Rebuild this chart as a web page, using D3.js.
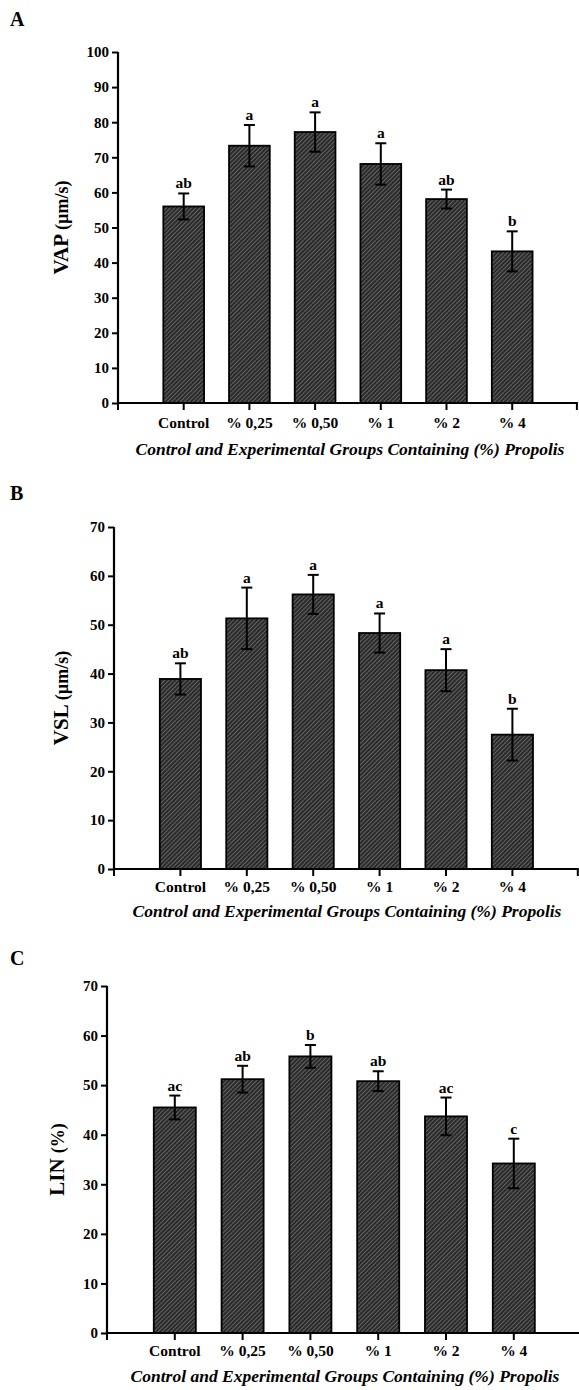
<!DOCTYPE html>
<html>
<head>
<meta charset="utf-8">
<script src="https://cdn.jsdelivr.net/npm/d3@7"></script>
<style>
  html, body { margin: 0; padding: 0; background: #fff; }
  svg { display: block; }
  text { font-family: "Liberation Serif", "Times New Roman", serif; font-weight: bold; fill: #000; }
</style>
</head>
<body>
<svg id="chart" width="579" height="1390"></svg>
<script>
// ---- data ----
const groups = ["Control", "% 0,25", "% 0,50", "% 1", "% 2", "% 4"];

const vapMean = [56, 73.3, 77.2, 68.1, 58.1, 43.2];
const vapErr = [3.7, 5.9, 5.6, 5.9, 2.7, 5.7];
const vapLetters = ["ab", "a", "a", "a", "ab", "b"];
const vapTicks = [0, 10, 20, 30, 40, 50, 60, 70, 80, 90, 100];

const vslMean = [38.9, 51.3, 56.2, 48.3, 40.7, 27.5];
const vslErr = [3.2, 6.3, 4.0, 4.0, 4.3, 5.3];
const vslLetters = ["ab", "a", "a", "a", "a", "b"];
const vslTicks = [0, 10, 20, 30, 40, 50, 60, 70];

const linMean = [45.5, 51.2, 55.8, 50.8, 43.7, 34.2];
const linErr = [2.4, 2.7, 2.3, 2.0, 3.8, 5.0];
const linLetters = ["ac", "ab", "b", "ab", "ac", "c"];
const linTicks = [0, 10, 20, 30, 40, 50, 60, 70];

const xTitle = "Control and Experimental Groups Containing (%) Propolis";

// ---- drawing ----
const svg = d3.select("#chart");
const defs = svg.append("defs");
const pat = defs.append("pattern")
  .attr("id", "hatch")
  .attr("patternUnits", "userSpaceOnUse")
  .attr("width", 3).attr("height", 3)
  .attr("patternTransform", "rotate(45)");
pat.append("rect").attr("width", 3).attr("height", 3).attr("fill", "#2a2a2a");
pat.append("line").attr("x1", 0.5).attr("y1", 0).attr("x2", 0.5).attr("y2", 3)
  .attr("stroke", "#626262").attr("stroke-width", 1);

function panel(cfg) {
  const g = svg.append("g");
  const x0 = cfg.x0, step = cfg.step;
  const xEnd = Math.min(x0 + 7 * step, 579);
  const x = d3.scaleBand().domain(groups)
    .range([x0 + step * 0.5, x0 + step * 6.5])
    .paddingInner(0.38).paddingOuter(0.19);
  const y = d3.scaleLinear().domain([0, cfg.max]).range([cfg.yZero, cfg.yTop]);

  // panel letter
  g.append("text").attr("x", 10).attr("y", cfg.letterY)
    .style("font-size", "20px").text(cfg.letter);

  // bars
  g.selectAll("rect.bar").data(cfg.mean).join("rect")
    .attr("class", "bar")
    .attr("x", (d, i) => x(groups[i]))
    .attr("y", d => y(d))
    .attr("width", x.bandwidth())
    .attr("height", d => y(0) - y(d))
    .attr("fill", "url(#hatch)")
    .attr("stroke", "#000").attr("stroke-width", 1.8);

  // error bars
  const cx = i => x(groups[i]) + x.bandwidth() / 2;
  const eb = g.selectAll("g.err").data(cfg.mean).join("g").attr("class", "err");
  eb.append("line")
    .attr("x1", (d, i) => cx(i)).attr("x2", (d, i) => cx(i))
    .attr("y1", (d, i) => y(d - cfg.err[i])).attr("y2", (d, i) => y(d + cfg.err[i]))
    .attr("stroke", "#000").attr("stroke-width", 2);
  [1, -1].forEach(sgn => {
    eb.append("line")
      .attr("x1", (d, i) => cx(i) - 5.5).attr("x2", (d, i) => cx(i) + 5.5)
      .attr("y1", (d, i) => y(d + sgn * cfg.err[i])).attr("y2", (d, i) => y(d + sgn * cfg.err[i]))
      .attr("stroke", "#000").attr("stroke-width", 2);
  });

  // significance letters
  g.selectAll("text.sig").data(cfg.mean).join("text")
    .attr("class", "sig")
    .attr("x", (d, i) => cx(i))
    .attr("y", (d, i) => y(d + cfg.err[i]) - 5)
    .attr("text-anchor", "middle")
    .style("font-size", "15.5px")
    .text((d, i) => cfg.letters[i]);

  // y axis
  const yAxis = d3.axisLeft(y).tickValues(cfg.ticks).tickSize(6).tickPadding(3).tickSizeOuter(0);
  const ya = g.append("g").attr("transform", `translate(${x0},0)`).call(yAxis);
  ya.select(".domain").attr("stroke-width", 2.2).attr("d", `M0,${cfg.yZero + 1}V${cfg.yTop}`);
  ya.selectAll(".tick line").attr("stroke-width", 2);
  ya.selectAll(".tick text").style("font-size", "15px")
    .style("font-family", "'Liberation Serif', serif").style("font-weight", "bold");

  // x axis
  const xa = g.append("g").attr("transform", `translate(0,${cfg.yZero})`);
  xa.append("line").attr("x1", x0 - 1).attr("x2", xEnd).attr("y1", 0).attr("y2", 0)
    .attr("stroke", "#000").attr("stroke-width", 2.2);
  const tickXs = [x0].concat(groups.map((c, i) => cx(i)));
  if (x0 + 7 * step <= 579) tickXs.push(x0 + 7 * step - 1);
  xa.selectAll("line.xt").data(tickXs).join("line").attr("class", "xt")
    .attr("x1", d => d).attr("x2", d => d).attr("y1", 0).attr("y2", 7)
    .attr("stroke", "#000").attr("stroke-width", 2);
  xa.selectAll("text.xl").data(groups).join("text").attr("class", "xl")
    .attr("x", (d, i) => cx(i)).attr("y", cfg.labelDy)
    .attr("text-anchor", "middle").style("font-size", "15.5px")
    .text(d => d);

  // x title
  g.append("text").attr("x", cfg.subX).attr("y", cfg.subY)
    .attr("text-anchor", "middle").style("font-size", "17.5px").style("font-style", "italic")
    .text(xTitle);

  // y title
  const yt = g.append("text")
    .attr("transform", `translate(${cfg.ytX},${(cfg.yZero + cfg.yTop) / 2}) rotate(-90)`)
    .attr("text-anchor", "middle");
  yt.append("tspan").style("font-size", "21px").text(cfg.yMain);
  yt.append("tspan").style("font-size", "18px").text(cfg.yUnit);
}

panel({ letter: "A", letterY: 26, x0: 118, step: 65.7, yTop: 52, yZero: 403, max: 100,
  mean: vapMean, err: vapErr, letters: vapLetters, ticks: vapTicks,
  labelDy: 25, subX: 350, subY: 455, ytX: 68, yMain: "VAP ", yUnit: "(\u00b5m/s)" });

panel({ letter: "B", letterY: 500, x0: 114, step: 66.4, yTop: 527, yZero: 869, max: 70,
  mean: vslMean, err: vslErr, letters: vslLetters, ticks: vslTicks,
  labelDy: 23, subX: 347, subY: 917, ytX: 68, yMain: "VSL ", yUnit: "(\u00b5m/s)" });

panel({ letter: "C", letterY: 965, x0: 107, step: 67.8, yTop: 986, yZero: 1333, max: 70,
  mean: linMean, err: linErr, letters: linLetters, ticks: linTicks,
  labelDy: 23, subX: 345, subY: 1382, ytX: 64, yMain: "LIN ", yUnit: "(%)" });
</script>
</body>
</html>
